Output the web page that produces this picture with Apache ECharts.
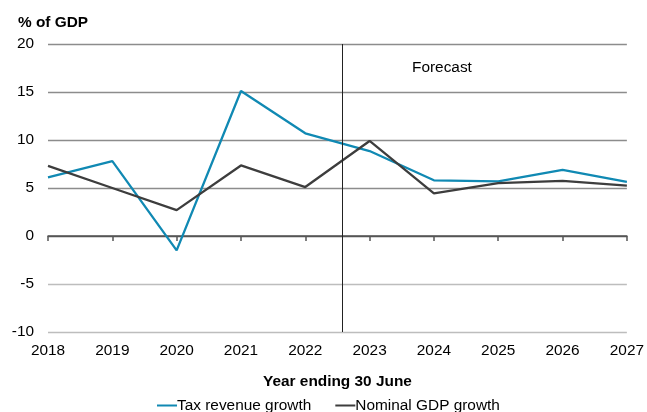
<!DOCTYPE html>
<html>
<head>
<meta charset="utf-8">
<script src="https://cdn.jsdelivr.net/npm/echarts@6/dist/echarts.min.js"></script>
<style>
  html, body { margin: 0; padding: 0; background: #fff; }
  #chart { width: 647px; height: 412px; }
</style>
</head>
<body>
<div id="chart"></div>
<script>
// Years (financial year ending 30 June)
const years = [2018, 2019, 2020, 2021, 2022, 2023, 2024, 2025, 2026, 2027];
// Growth rates, per cent
const taxRevenueGrowth = [6.1, 7.8, -1.5, 15.1, 10.7, 8.85, 5.8, 5.7, 6.9, 5.65];
const nominalGdpGrowth = [7.3, 5.0, 2.7, 7.35, 5.1, 9.9, 4.45, 5.5, 5.75, 5.25];
// Boundary between outcomes and forecasts
const forecastStart = 2022.57;

const font = 'Liberation Sans, Arial, sans-serif';
const fs = 15.4;
const pairs = (vals) => years.map((y, i) => [y, vals[i]]);

const chart = echarts.init(document.getElementById('chart'), null, { renderer: 'canvas' });
chart.setOption({
  animation: false,
  textStyle: { fontFamily: font },
  grid: { left: 48, right: 20, top: 44, bottom: 80 },
  title: {
    text: '% of GDP', left: 18, top: 15, padding: 0,
    textStyle: { fontFamily: font, fontSize: fs, fontWeight: 'bold', color: '#000' }
  },
  legend: {
    top: 398, left: 157, padding: 0, itemGap: 24, itemWidth: 20, itemHeight: 2,
    icon: 'rect',
    textStyle: { fontFamily: font, fontSize: fs, color: '#000', padding: [0, 0, 0, -5] },
    data: ['Tax revenue growth', 'Nominal GDP growth']
  },
  xAxis: [
    {
      // zero line with ticks
      type: 'value', min: 2018, max: 2027, interval: 1,
      axisLine: { onZero: true, lineStyle: { color: '#555', width: 1.5 } },
      axisTick: { show: true, length: 5, lineStyle: { color: '#555', width: 1.5 } },
      axisLabel: { show: false },
      splitLine: { show: false }
    },
    {
      // year labels at the bottom
      type: 'value', min: 2018, max: 2027, interval: 1, position: 'bottom',
      axisLine: { show: false }, axisTick: { show: false }, splitLine: { show: false },
      axisLabel: { fontFamily: font, fontSize: fs, color: '#000', margin: 11, formatter: (v) => String(v) },
      name: 'Year ending 30 June', nameLocation: 'middle', nameGap: 42,
      nameTextStyle: { fontFamily: font, fontSize: fs, fontWeight: 'bold', color: '#000' }
    }
  ],
  yAxis: {
    type: 'value', min: -10, max: 20, interval: 5,
    axisLine: { show: false }, axisTick: { show: false },
    axisLabel: { fontFamily: font, fontSize: fs, color: '#000', margin: 14 },
    splitLine: { lineStyle: { color: ['#bdbdbd', '#bdbdbd', '#555', '#8c8c8c', '#8c8c8c', '#8c8c8c', '#8c8c8c'], width: 1.3 } }
  },
  graphic: [{
    type: 'text', left: 412, top: 60,
    style: { text: 'Forecast', fontFamily: font, fontSize: fs, fill: '#000' }
  }],
  series: [
    {
      name: 'Tax revenue growth', type: 'line', xAxisIndex: 0,
      data: pairs(taxRevenueGrowth), symbol: 'none',
      lineStyle: { color: '#1089b3', width: 2.3 }, itemStyle: { color: '#1089b3' },
      markLine: {
        silent: true, symbol: 'none', label: { show: false },
        lineStyle: { color: '#222', width: 1, type: 'solid' },
        data: [{ xAxis: forecastStart }]
      }
    },
    {
      name: 'Nominal GDP growth', type: 'line', xAxisIndex: 0,
      data: pairs(nominalGdpGrowth), symbol: 'none',
      lineStyle: { color: '#3d3d3d', width: 2.3 }, itemStyle: { color: '#3d3d3d' }
    }
  ]
});
</script>
</body>
</html>
